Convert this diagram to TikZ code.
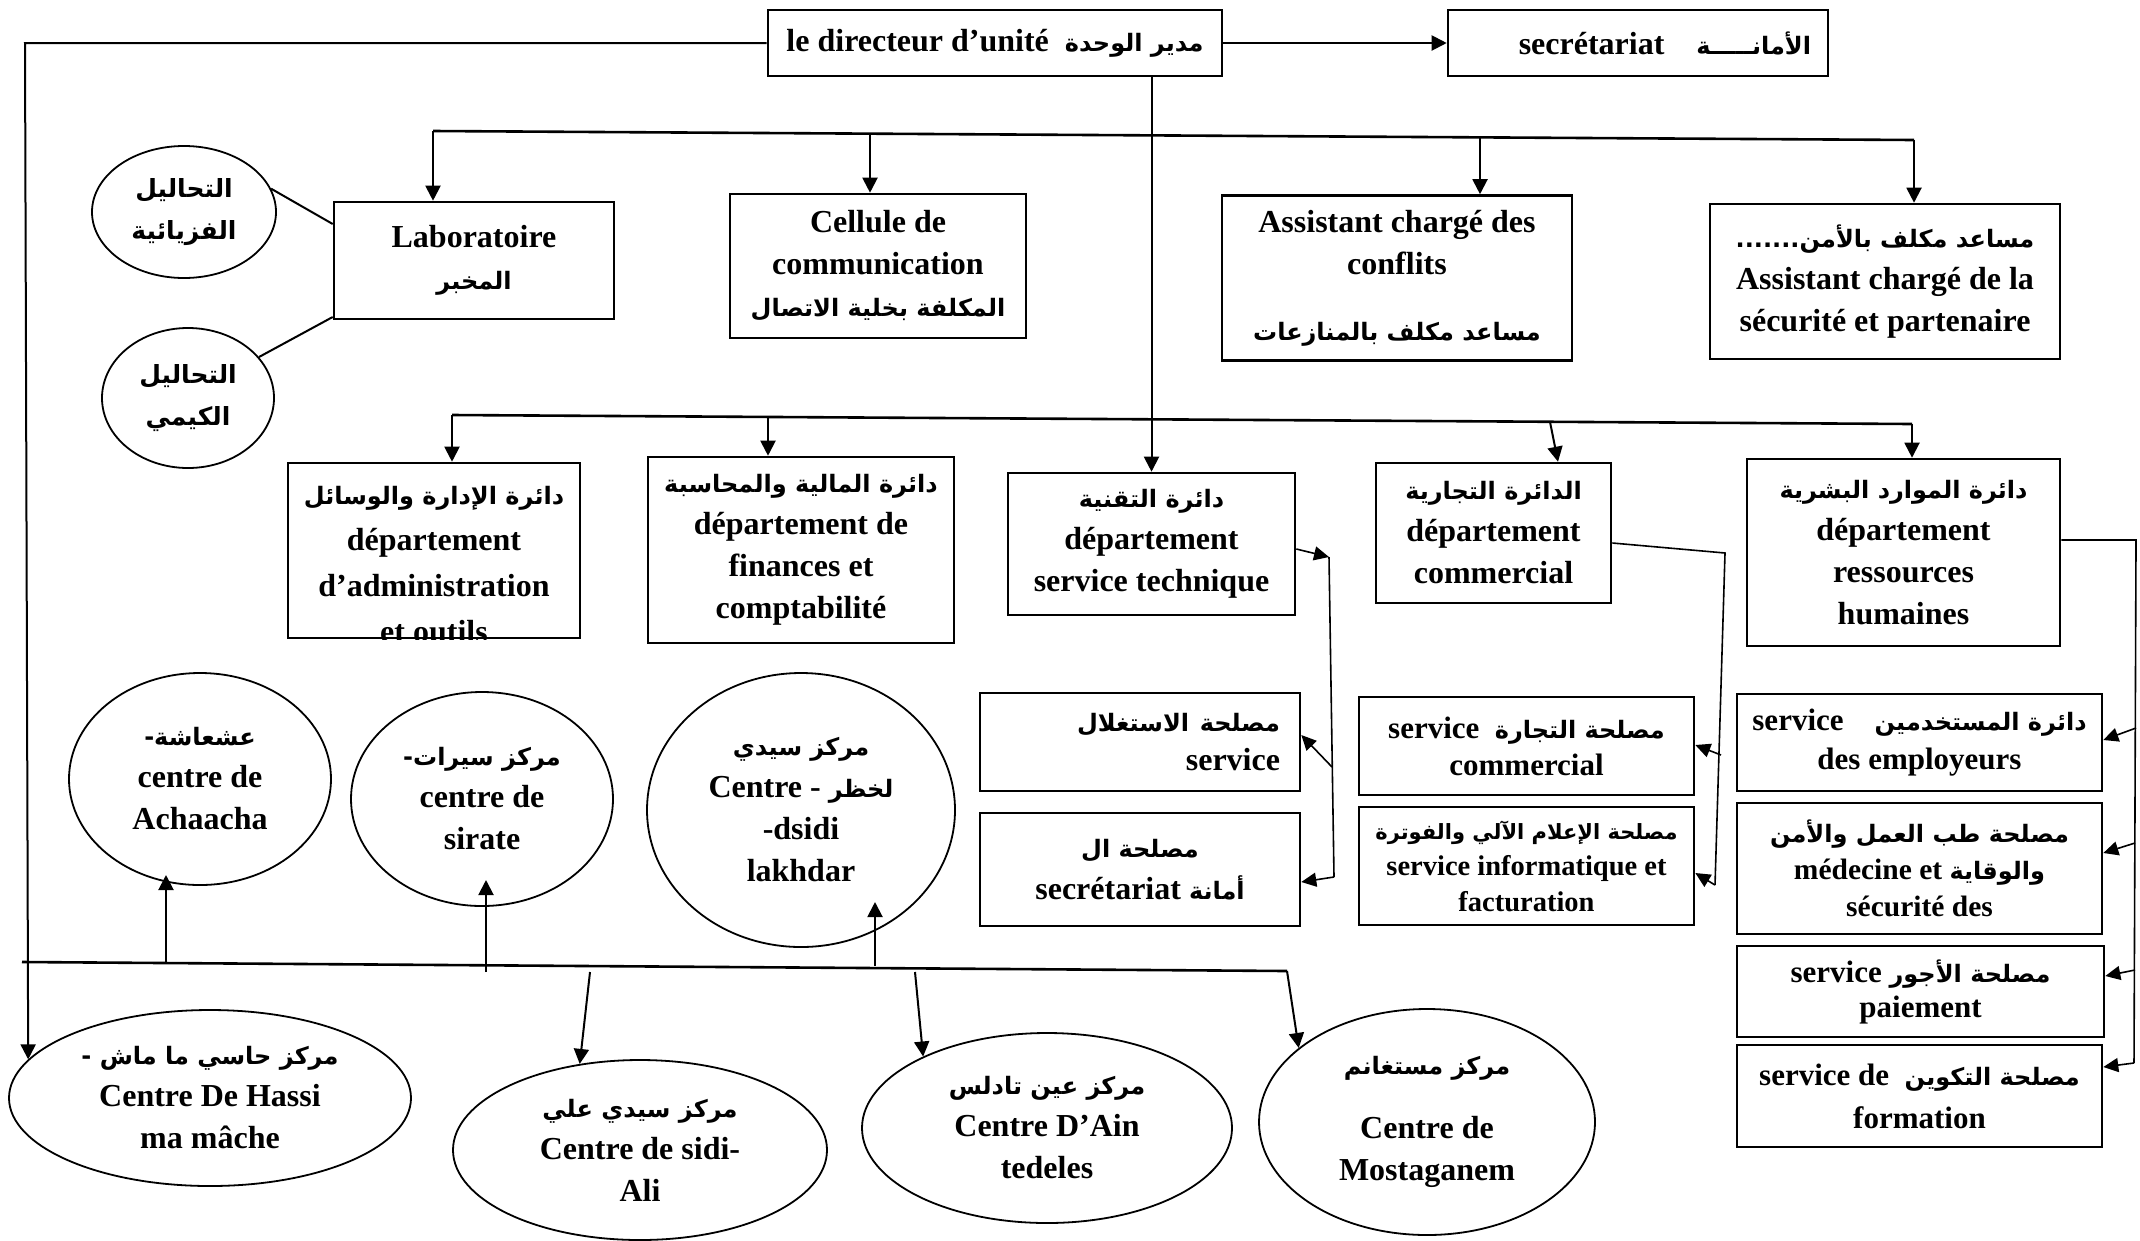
\documentclass[tikz,border=0pt]{standalone}
\usepackage{fontspec}
\setmainfont{Liberation Serif}
\newfontfamily\arabicfont[Script=Arabic]{DejaVu Sans}
\TeXXeTstate=1
\usetikzlibrary{shapes.geometric,arrows.meta,calc}
\newcommand{\ar}[2][24]{{\arabicfont\bfseries\fontsize{#1}{#1}\selectfont\beginR #2\endR}}
\tikzset{
  base/.style={font=\bfseries\fontsize{32}{42}\selectfont, align=center},
  box/.style={base, draw, line width=2.6pt, rectangle, inner sep=0pt},
  ell/.style={base, draw, line width=1.8pt, ellipse, inner sep=0pt},
  ln/.style={line width=2pt},
  bus/.style={line width=2.6pt},
  arr/.style={line width=2pt, -{Triangle[length=15pt,width=15pt]}},
  thinln/.style={line width=1.6pt},
  tarr/.style={line width=1.6pt, -{Triangle[length=15pt,width=14pt]}},
}
\begin{document}
\begin{tikzpicture}[x=1pt,y=-1pt]
\useasboundingbox (0,0) rectangle (2140,1240);

% ---- top row
\node[box, minimum width=454pt, minimum height=66pt] (dir) at (995,43) {le directeur d’unité\enspace\ar{مدير الوحدة}};
\node[box, minimum width=380pt, minimum height=66pt, text width=346pt, align=right] (sec) at (1638,43) {secrétariat\quad\ar{الأمانـــــة}};

% ---- second row
\node[box, minimum width=280pt, minimum height=117pt] (lab) at (474,260.5) {Laboratoire\\\ar{المخبر}};
\node[box, minimum width=296pt, minimum height=144pt] (cell) at (878,266) {Cellule de\\communication\\\ar{المكلفة بخلية الاتصال}};
\node[box, minimum width=350pt, minimum height=165pt] (conf) at (1397,278) {Assistant chargé des\\conflits\\[24pt]\ar{مساعد مكلف بالمنازعات}};
\node[box, minimum width=350pt, minimum height=155pt] (secu) at (1885,281.5) {\ar{مساعد مكلف بالأمن.......}\\Assistant chargé de la\\sécurité et partenaire};

\node[ell, minimum width=184pt, minimum height=132pt] (phys) at (184,212) {\ar[25]{التحاليل}\\\ar[25]{الفزيائية}};
\node[ell, minimum width=172pt, minimum height=140pt] (chem) at (188,398) {\ar[25]{التحاليل}\\\ar[25]{الكيمي}};

% ---- departments
\node[box, minimum width=292pt, minimum height=175pt] (adm) at (434,550.5) {};
\begin{scope}
  \clip (adm.north west) rectangle (adm.south east);
  \node[base, font=\bfseries\fontsize{32}{46}\selectfont] (admt) at (434,565) {\ar{دائرة الإدارة والوسائل}\\département\\d’administration\\et outils};
\end{scope}
\node[box, minimum width=306pt, minimum height=186pt] (fin) at (801,550) {\ar{دائرة المالية والمحاسبة}\\département de\\finances et\\comptabilité};
\node[box, minimum width=287pt, minimum height=142pt] (tech) at (1151.5,544) {\ar{دائرة التقنية}\\département\\service technique};
\node[box, minimum width=235pt, minimum height=140pt] (com) at (1493.5,533) {\ar{الدائرة التجارية}\\département\\commercial};
\node[box, minimum width=313pt, minimum height=187pt] (rh) at (1903.5,552.5) {\ar{دائرة الموارد البشرية}\\département\\ressources\\humaines};

% ---- services
\node[box, minimum width=320pt, minimum height=98pt, text width=280pt, align=right, font=\bfseries\fontsize{32}{39}\selectfont] (sexpl) at (1140,742) {\ar{مصلحة الاستغلال}\\service};
\node[box, minimum width=320pt, minimum height=113pt] (ssec) at (1140,869.5) {\ar{مصلحة ال}\\secrétariat \ar{أمانة}};
\node[box, minimum width=335pt, minimum height=98pt, font=\bfseries\fontsize{31}{37}\selectfont] (scom) at (1526.5,746) {service\enspace\ar{مصلحة التجارة}\\commercial};
\node[box, minimum width=335pt, minimum height=118pt, font=\bfseries\fontsize{28.5}{36}\selectfont] (sinf) at (1526.5,866) {\ar[21]{مصلحة الإعلام الآلي والفوترة}\\service informatique et\\facturation};
\node[box, minimum width=365pt, minimum height=97pt, font=\bfseries\fontsize{31}{39}\selectfont] (semp) at (1919.5,742.5) {service\quad\ar{دائرة المستخدمين}\\des employeurs};
\node[box, minimum width=365pt, minimum height=131pt, font=\bfseries\fontsize{29.5}{37}\selectfont] (smed) at (1919.5,868.5) {\ar{مصلحة طب العمل والأمن}\\médecine et \ar{والوقاية}\\sécurité des};
\node[box, minimum width=367pt, minimum height=91pt, font=\bfseries\fontsize{31}{35}\selectfont] (spai) at (1920.5,991.5) {service \ar{مصلحة الأجور}\\paiement};
\node[box, minimum width=365pt, minimum height=102pt, font=\bfseries\fontsize{31}{43}\selectfont] (sfor) at (1919.5,1096) {service de\enspace\ar{مصلحة التكوين}\\formation};

% ---- centres
\node[ell, minimum width=262pt, minimum height=212pt] (ach) at (200,779) {\ar{عشعاشة-}\\centre de\\Achaacha};
\node[ell, minimum width=262pt, minimum height=214pt] (sir) at (482,799) {\ar{مركز سيرات-}\\centre de\\sirate};
\node[ell, minimum width=308pt, minimum height=274pt] (lakh) at (801,810) {\ar{مركز سيدي}\\Centre - \ar{لخظر}\\-dsidi\\lakhdar};
\node[ell, minimum width=402pt, minimum height=176pt] (hassi) at (210,1098) {\ar{مركز حاسي ما ماش -}\\Centre De Hassi\\ma mâche};
\node[ell, minimum width=374pt, minimum height=180pt] (sali) at (640,1150) {\ar{مركز سيدي علي}\\Centre de sidi-\\Ali};
\node[ell, minimum width=370pt, minimum height=190pt] (ain) at (1047,1128) {\ar{مركز عين تادلس}\\Centre D’Ain\\tedeles};
\node[ell, minimum width=336pt, minimum height=226pt] (mosta) at (1427,1122) {\ar{مركز مستغانم}\\[22pt]Centre de\\Mostaganem};

% ---- director connectors
\coordinate (lc) at (25,43);
\draw[arr] (dir.east) -- (sec.west);
\draw[arr] (dir.west) -- (lc) -- (hassi.168);
\draw[arr] (dir.south -| tech.north) -- (tech.north);

% ---- top bus
\coordinate (t1) at (433,131);
\coordinate (t2) at (870,133.7);
\coordinate (t3) at (1480,137.4);
\coordinate (t4) at (1914,140);
\draw[bus] (t1) -- (t4);
\draw[arr] (t1) -- (t1 |- lab.north);
\draw[arr] (t2) -- (t2 |- cell.north);
\draw[arr] (t3) -- (t3 |- conf.north);
\draw[arr] (t4) -- (t4 |- secu.north);

\draw[ln] (phys.15) -- (lab.west |- 0,224);
\draw[ln] (chem.30) -- (lab.west |- 0,317);

% ---- department bus
\coordinate (u1) at (452,415);
\coordinate (u2) at (768,417);
\coordinate (u3) at (1550,422);
\coordinate (u4) at (1912,424);
\draw[bus] (u1) -- (u4);
\draw[arr] (u1) -- (u1 |- adm.north);
\draw[arr] (u2) -- (u2 |- fin.north);
\draw[arr] (u3) -- (com.north -| 1558,0);
\draw[arr] (u4) -- (u4 |- rh.north);

% ---- technique services
\coordinate (tv1) at (1329,557);
\coordinate (tvm) at (1332,767);
\coordinate (tv2) at (1334,877);
\draw[tarr] (tech.east |- 0,549) -- (tv1);
\draw[thinln] (tv1) -- (tv2);
\draw[tarr] (tvm) -- (sexpl.east |- 0,735);
\draw[tarr] (tv2) -- (ssec.east |- 0,882);

% ---- commercial services
\coordinate (cv1) at (1725,553);
\coordinate (cvm) at (1721,755);
\coordinate (cv2) at (1715,885);
\draw[thinln] (com.east |- 0,543) -- (cv1) -- (cv2);
\draw[tarr] (cvm) -- (scom.east |- 0,745);
\draw[tarr] (cv2) -- (sinf.east |- 0,873);

% ---- HR services
\coordinate (rv1) at (2136,540);
\coordinate (rm1) at (2136,728);
\coordinate (rm2) at (2135,843);
\coordinate (rm3) at (2135,970);
\coordinate (rv2) at (2134,1063);
\draw[thinln] (rh.east |- 0,540) -- (rv1) -- (rv2);
\draw[tarr] (rm1) -- (semp.east |- 0,740);
\draw[tarr] (rm2) -- (smed.east |- 0,853);
\draw[tarr] (rm3) -- (spai.east |- 0,976);
\draw[tarr] (rv2) -- (sfor.east |- 0,1067);

% ---- centres bus
\coordinate (bl) at (22,962);
\coordinate (br) at (1287,971);
\draw[bus] (bl) -- (br);
\draw[arr] (br) -- (mosta.150);
\coordinate (a1s) at (166,962);
\coordinate (a1e) at (166,875);
\coordinate (a2s) at (486,972);
\coordinate (a2e) at (486,880);
\coordinate (a3s) at (875,966);
\coordinate (a3e) at (875,902);
\draw[arr] (a1s) -- (a1e);
\draw[arr] (a2s) -- (a2e);
\draw[arr] (a3s) -- (a3e);
\coordinate (d1) at (590,972);
\coordinate (d2) at (915,972);
\draw[arr] (d1) -- (sali.125);
\draw[arr] (d2) -- (ain.150);
\end{tikzpicture}
\end{document}
